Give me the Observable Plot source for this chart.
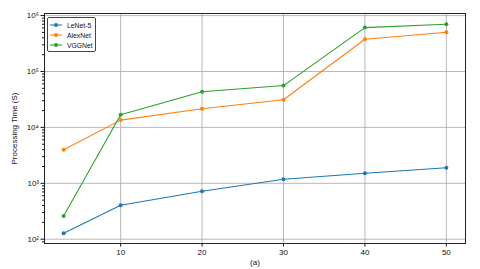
<!DOCTYPE html>
<html>
<head>
<meta charset="utf-8">
<script src="https://cdn.jsdelivr.net/npm/d3@7"></script>
<script src="https://cdn.jsdelivr.net/npm/@observablehq/plot@0.6"></script>
<style>
  html, body { margin: 0; padding: 0; background: white; }
  #wrap { position: relative; width: 480px; height: 269px; font-family: "Liberation Sans", Arial, sans-serif; }
  #legend { position: absolute; left: 47px; top: 17px; width: 49px; height: 35px; box-sizing: border-box;
    border: 1px solid #444; border-radius: 2px; background: white; font-size: 6.8px; color: #111; }
  .item { position: absolute; left: 2px; height: 8px; display: flex; align-items: center; white-space: nowrap; }
  .item svg { margin-right: 5px; flex: none; }
</style>
</head>
<body>
<div id="wrap"><div id="legend"></div></div>
<script>
const xValues = [3, 10, 20, 30, 40, 50];
const seriesNames = ["LeNet-5", "AlexNet", "VGGNet"];
const lenet = [128, 405, 720, 1180, 1510, 1900];
const alexnet = [4000, 13500, 21600, 31300, 378000, 505000];
const vggnet = [259, 16900, 43400, 56000, 610000, 700000];
const colors = ["#1f77b4", "#ff7f0e", "#2ca02c"];
const xTicks = [10, 20, 30, 40, 50];
const yTicks = [1e2, 1e3, 1e4, 1e5, 1e6];
const yLabel = "Processing Time (S)";
const xLabel = "(a)";

const allSeries = [lenet, alexnet, vggnet];
const data = [];
allSeries.forEach((vals, i) => vals.forEach((v, j) => data.push({series: seriesNames[i], x: xValues[j], y: v})));

const minorTicks = [];
for (let e = 1; e <= 6; e++) for (let m = 2; m <= 9; m++) {
  const v = m * Math.pow(10, e);
  if (v > 83.8 && v < 1.09e6) minorTicks.push(v);
}
const sup = {"0":"⁰","1":"¹","2":"²","3":"³","4":"⁴","5":"⁵","6":"⁶","7":"⁷","8":"⁸","9":"⁹"};
const fmt = d => "10" + String(Math.round(Math.log10(d))).split("").map(c => sup[c]).join("");

const chart = Plot.plot({
  width: 480, height: 269,
  marginLeft: 44, marginRight: 15, marginTop: 13, marginBottom: 26,
  style: {fontFamily: "Liberation Sans, Arial, sans-serif", fontSize: "8px", color: "#111", background: "white"},
  x: {domain: [0.65, 52.35]},
  y: {type: "log", domain: [83.8, 1.09e6]},
  color: {domain: seriesNames, range: colors},
  marks: [
    Plot.gridX(xTicks, {stroke: "#b0b0b0", strokeOpacity: 1, strokeWidth: 0.9}),
    Plot.gridY(yTicks, {stroke: "#b0b0b0", strokeOpacity: 1, strokeWidth: 0.9}),
    Plot.axisX(xTicks, {tickSize: 3.5, tickPadding: 2, label: xLabel, labelAnchor: "center", labelArrow: "none", labelOffset: 21}),
    Plot.axisY(minorTicks, {tickSize: 2, tickFormat: () => "", label: null}),
    Plot.axisY(yTicks, {tickSize: 3.5, tickPadding: 2, tickFormat: fmt, label: yLabel, labelAnchor: "center", labelArrow: "none", labelOffset: 33}),
    Plot.line(data, {x: "x", y: "y", z: "series", stroke: "series", strokeWidth: 1.1}),
    Plot.dot(data, {x: "x", y: "y", fill: "series", r: 2}),
    Plot.frame({stroke: "#222", strokeWidth: 1})
  ]
});
document.getElementById("wrap").prepend(chart);

const legend = document.getElementById("legend");
seriesNames.forEach((name, i) => {
  const item = document.createElement("div");
  item.className = "item";
  item.style.top = (3 + i * 10) + "px";
  item.innerHTML = `<svg width="12" height="6"><line x1="0" x2="12" y1="3" y2="3" stroke="${colors[i]}" stroke-width="1.1"/><circle cx="6" cy="3" r="2" fill="${colors[i]}"/></svg><span>${name}</span>`;
  legend.appendChild(item);
});
</script>
</body>
</html>
